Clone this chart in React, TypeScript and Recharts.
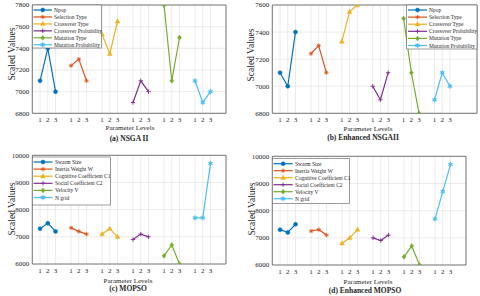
import React from 'react';
import { LineChart, Line, XAxis, YAxis, CartesianGrid } from 'recharts';

// ---------- data ----------
const levelLabels = ['1', '2', '3'];
const groupPositions = [
  [1, 2, 3],
  [5, 6, 7],
  [9, 10, 11],
  [13, 14, 15],
  [17, 18, 19],
  [21, 22, 23],
];

const nsgaParams = ['Npop', 'Selection Type', 'Crossover Type', 'Crossover Probability', 'Mutation Type', 'Mutation Probability'];
const mopsoParams = ['Swarm Size', 'Inertia Weight W', 'Cognitive Coefficient C1', 'Social Coefficient C2', 'Velocity V', 'N grid'];

const nsga2Values = [
  [7100, 7400, 7000],
  [7240, 7300, 7100],
  [7530, 7350, 7650],
  [6900, 7100, 7000],
  [7800, 7100, 7500],
  [7100, 6900, 7000],
];
const enhNsga2Values = [
  [7100, 7000, 7400],
  [7240, 7300, 7100],
  [7330, 7550, 7600],
  [7000, 6900, 7100],
  [7500, 7100, 6800],
  [6900, 7100, 7000],
];
const mopsoValues = [
  [7300, 7500, 7200],
  [7330, 7200, 7100],
  [7100, 7300, 7000],
  [6900, 7100, 7000],
  [6300, 6700, 6000],
  [7700, 7700, 9700],
];
const enhMopsoValues = [
  [7300, 7200, 7500],
  [7250, 7300, 7100],
  [6800, 7000, 7300],
  [7000, 6900, 7100],
  [6300, 6700, 6000],
  [7700, 8700, 9700],
];

const nsgaTicksA = [6800, 7000, 7200, 7400, 7600, 7800];
const nsgaTicksB = [6800, 7000, 7200, 7400, 7600];
const mopsoTicks = [6000, 7000, 8000, 9000, 10000];

const titles = ['(a) NSGA II', '(b) Enhanced NSGAII', '(c) MOPSO', '(d) Enhanced MOPSO'];
const xLabel = 'Parameter Levels';
const yLabel = 'Scaled Values';

// ---------- style ----------
const FONT = "'Liberation Serif','Times New Roman',serif";
const TEXT = '#262626';
const AXIS = '#5a5a5a';
const GRID = '#e2e2e2';
const COLORS = ['#0072BD', '#D95319', '#EDB120', '#7E2F8E', '#77AC30', '#4DBEEE'];
const SHAPES = ['circle', 'asterisk', 'triangle', 'plus', 'diamond', 'star'];

const allTicks = groupPositions.flat();
const tickLabel = (v: number) => {
  for (const g of groupPositions) {
    const i = g.indexOf(v);
    if (i >= 0) return levelLabels[i];
  }
  return '';
};

function Marker({ cx, cy, color, shape }: { cx: number; cy: number; color: string; shape: string }) {
  if (cx == null || cy == null || isNaN(cx) || isNaN(cy)) return null;
  const s = 2.2;
  switch (shape) {
    case 'circle':
      return <circle cx={cx} cy={cy} r={2} fill={color} stroke={color} strokeWidth={0.5} />;
    case 'asterisk':
      return (
        <g stroke={color} strokeWidth={0.8}>
          <line x1={cx - s} y1={cy} x2={cx + s} y2={cy} />
          <line x1={cx} y1={cy - s} x2={cx} y2={cy + s} />
          <line x1={cx - s * 0.7} y1={cy - s * 0.7} x2={cx + s * 0.7} y2={cy + s * 0.7} />
          <line x1={cx - s * 0.7} y1={cy + s * 0.7} x2={cx + s * 0.7} y2={cy - s * 0.7} />
        </g>
      );
    case 'triangle':
      return <polygon points={`${cx},${cy - 2.6} ${cx - 2.4},${cy + 1.7} ${cx + 2.4},${cy + 1.7}`} fill={color} stroke={color} strokeWidth={0.4} />;
    case 'plus':
      return (
        <g stroke={color} strokeWidth={0.9}>
          <line x1={cx - s} y1={cy} x2={cx + s} y2={cy} />
          <line x1={cx} y1={cy - s} x2={cx} y2={cy + s} />
        </g>
      );
    case 'diamond':
      return <polygon points={`${cx},${cy - 2.5} ${cx + 2},${cy} ${cx},${cy + 2.5} ${cx - 2},${cy}`} fill={color} stroke={color} strokeWidth={0.4} />;
    default: {
      const pts: string[] = [];
      for (let i = 0; i < 12; i++) {
        const a = (Math.PI / 6) * i - Math.PI / 2;
        const r = i % 2 === 0 ? 2.8 : 1.3;
        pts.push(`${cx + r * Math.cos(a)},${cy + r * Math.sin(a)}`);
      }
      return <polygon points={pts.join(' ')} fill={color} stroke={color} strokeWidth={0.3} />;
    }
  }
}

type PanelProps = {
  box: [number, number, number, number];
  xMax: number;
  yDomain: [number, number];
  yTicks: number[];
  names: string[];
  values: number[][];
};

const YW = 30;
const XH = 20;
const MIR = 1;

function Panel({ box, xMax, yDomain, yTicks, names, values }: PanelProps) {
  const [x0, y0, x1, y1] = box;
  return (
    <div style={{ position: 'absolute', left: 0, top: 0 }}>
      <LineChart
        width={480}
        height={296}
        margin={{ left: x0 - YW, top: y0 - MIR, right: 480 - x1 - MIR, bottom: 296 - y1 - XH }}
      >
        <CartesianGrid stroke={GRID} strokeWidth={0.7} />
        <XAxis
          type="number"
          dataKey="x"
          domain={[0, xMax]}
          ticks={allTicks}
          interval={0}
          tickFormatter={tickLabel}
          height={XH}
          tickLine={false}
          tickSize={4}
          tickMargin={0}
          axisLine={{ stroke: AXIS, strokeWidth: 0.8 }}
          tick={{ fontSize: 7, fill: TEXT, fontFamily: FONT }}
          allowDataOverflow
        />
        <XAxis xAxisId="top" orientation="top" type="number" dataKey="x" domain={[0, xMax]} height={MIR} tick={false} tickLine={false} axisLine={{ stroke: AXIS, strokeWidth: 0.8 }} />
        <YAxis
          type="number"
          domain={yDomain}
          ticks={yTicks}
          interval={0}
          width={YW}
          tickLine={false}
          tickSize={3}
          tickMargin={0}
          axisLine={{ stroke: AXIS, strokeWidth: 0.8 }}
          tick={{ fontSize: 7, fill: TEXT, fontFamily: FONT }}
          allowDataOverflow
        />
        <YAxis yAxisId="right" orientation="right" type="number" domain={yDomain} width={MIR} tick={false} tickLine={false} axisLine={{ stroke: AXIS, strokeWidth: 0.8 }} />
        {names.map((name, i) => (
          <Line
            key={name}
            name={name}
            data={values[i].map((v, j) => ({ x: groupPositions[i][j], v }))}
            dataKey="v"
            stroke={COLORS[i]}
            strokeWidth={1.2}
            isAnimationActive={false}
            dot={(p: any) => <Marker key={`${name}-${p.index}`} cx={p.cx} cy={p.cy} color={COLORS[i]} shape={SHAPES[i]} />}
          />
        ))}
      </LineChart>
    </div>
  );
}

function LegendBox({ x, y, w, h, rowY0, rowStep, lineX0, lineX1, textX, names }: any) {
  return (
    <g>
      <rect x={x} y={y} width={w} height={h} fill="#fff" stroke={AXIS} strokeWidth={0.6} />
      {names.map((n: string, i: number) => {
        const cy = rowY0 + rowStep * i;
        return (
          <g key={n}>
            <line x1={lineX0} y1={cy} x2={lineX1} y2={cy} stroke={COLORS[i]} strokeWidth={1.2} />
            <Marker cx={(lineX0 + lineX1) / 2} cy={cy} color={COLORS[i]} shape={SHAPES[i]} />
            <text x={textX} y={cy} dominantBaseline="central" fontSize={5.5} fill={TEXT} fontFamily={FONT}>
              {n}
            </text>
          </g>
        );
      })}
    </g>
  );
}

function Label({ x, y, text, bold, rotate, size }: any) {
  return (
    <text
      transform={`translate(${x},${y})${rotate ? ' rotate(-90)' : ''}`}
      textAnchor="middle"
      dominantBaseline="central"
      fontSize={size}
      fontWeight={bold ? 'bold' : 'normal'}
      fill={TEXT}
      fontFamily={FONT}
    >
      {text}
    </text>
  );
}

export default function App() {
  return (
    <div style={{ position: 'absolute', left: 0, top: 0, width: 480, height: 296, background: '#fff' }}>
      <Panel box={[32.3, 5, 226, 113.3]} xMax={25} yDomain={[6800, 7800]} yTicks={nsgaTicksA} names={nsgaParams} values={nsga2Values} />
      <Panel box={[272.3, 5, 477, 113.3]} xMax={26.5} yDomain={[6800, 7600]} yTicks={nsgaTicksB} names={nsgaParams} values={enhNsga2Values} />
      <Panel box={[32.3, 155.3, 226, 264]} xMax={25} yDomain={[6000, 10000]} yTicks={mopsoTicks} names={mopsoParams} values={mopsoValues} />
      <Panel box={[272.3, 156.3, 466, 265]} xMax={25} yDomain={[6000, 10000]} yTicks={mopsoTicks} names={mopsoParams} values={enhMopsoValues} />
      <svg width={480} height={296} style={{ position: 'absolute', left: 0, top: 0, pointerEvents: 'none' }}>
        <LegendBox x={32.3} y={5} w={69} h={43} rowY0={10} rowStep={6.95} lineX0={33.5} lineX1={52} textX={54} names={nsgaParams} />
        <LegendBox x={406.7} y={5} w={70.3} h={44} rowY0={10} rowStep={7.1} lineX0={408} lineX1={427} textX={429} names={nsgaParams} />
        <LegendBox x={32.3} y={157} w={78} h={48} rowY0={162} rowStep={7.1} lineX0={33.5} lineX1={52.5} textX={55} names={mopsoParams} />
        <LegendBox x={272.3} y={158.7} w={77} h={44.6} rowY0={163.7} rowStep={7} lineX0={273.5} lineX1={292.7} textX={295} names={mopsoParams} />

        <Label x={12} y={54} text={yLabel} rotate size={9.5} />
        <Label x={251} y={55} text={yLabel} rotate size={9.5} />
        <Label x={12} y={209} text={yLabel} rotate size={9.5} />
        <Label x={252} y={209} text={yLabel} rotate size={9.5} />

        <Label x={130} y={128.3} text={xLabel} size={7} />
        <Label x={368} y={128.8} text={xLabel} size={7} />
        <Label x={128} y={281.2} text={xLabel} size={7} />
        <Label x={368} y={282} text={xLabel} size={7} />

        <Label x={129} y={138.2} text={titles[0]} bold size={7.5} />
        <Label x={363} y={137} text={titles[1]} bold size={7.5} />
        <Label x={128} y={288.8} text={titles[2]} bold size={7.5} />
        <Label x={365} y={290.5} text={titles[3]} bold size={7.5} />
      </svg>
    </div>
  );
}
